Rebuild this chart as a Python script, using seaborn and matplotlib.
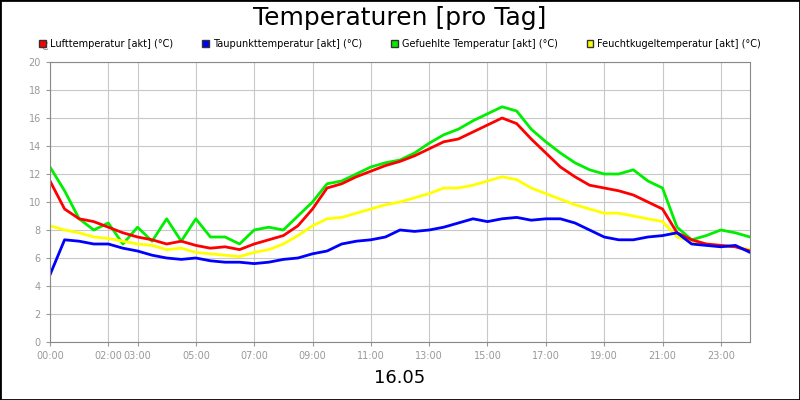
import numpy as np
import pandas as pd
import matplotlib
matplotlib.use("Agg")
import matplotlib.pyplot as plt
from matplotlib.patches import Patch
from matplotlib.patches import Rectangle
import seaborn as sns

hours = [i * 0.5 for i in range(49)]
luft = [11.5, 9.5, 8.8, 8.6, 8.2, 7.8, 7.5, 7.3, 7.0, 7.2, 6.9, 6.7, 6.8, 6.6, 7.0, 7.3, 7.6, 8.3, 9.5, 11.0,
        11.3, 11.8, 12.2, 12.6, 12.9, 13.3, 13.8, 14.3, 14.5, 15.0, 15.5, 16.0, 15.6, 14.5, 13.5, 12.5, 11.8, 11.2,
        11.0, 10.8, 10.5, 10.0, 9.5, 7.8, 7.3, 7.0, 6.9, 6.8, 6.5]
gefuehlt = [12.5, 10.8, 8.8, 8.0, 8.5, 7.0, 8.2, 7.2, 8.8, 7.2, 8.8, 7.5, 7.5, 7.0, 8.0, 8.2, 8.0, 9.0, 10.0, 11.3,
            11.5, 12.0, 12.5, 12.8, 13.0, 13.5, 14.2, 14.8, 15.2, 15.8, 16.3, 16.8, 16.5, 15.2, 14.3, 13.5, 12.8, 12.3,
            12.0, 12.0, 12.3, 11.5, 11.0, 8.2, 7.3, 7.6, 8.0, 7.8, 7.5]
feucht = [8.3, 8.0, 7.8, 7.5, 7.4, 7.2, 7.0, 6.9, 6.6, 6.7, 6.4, 6.3, 6.2, 6.1, 6.4, 6.6, 7.0, 7.6, 8.3, 8.8,
          8.9, 9.2, 9.5, 9.8, 10.0, 10.3, 10.6, 11.0, 11.0, 11.2, 11.5, 11.8, 11.6, 11.0, 10.6, 10.2, 9.8, 9.5,
          9.2, 9.2, 9.0, 8.8, 8.6, 7.5, 7.2, 7.0, 6.9, 6.8, 6.6]
taupunkt = [4.8, 7.3, 7.2, 7.0, 7.0, 6.7, 6.5, 6.2, 6.0, 5.9, 6.0, 5.8, 5.7, 5.7, 5.6, 5.7, 5.9, 6.0, 6.3, 6.5,
            7.0, 7.2, 7.3, 7.5, 8.0, 7.9, 8.0, 8.2, 8.5, 8.8, 8.6, 8.8, 8.9, 8.7, 8.8, 8.8, 8.5, 8.0, 7.5,
            7.3, 7.3, 7.5, 7.6, 7.8, 7.0, 6.9, 6.8, 6.9, 6.4]
names = ["Lufttemperatur [akt] (°C)", "Taupunkttemperatur [akt] (°C)",
         "Gefuehlte Temperatur [akt] (°C)", "Feuchtkugeltemperatur [akt] (°C)"]
colors = ["#ff0000", "#0000ff", "#00ee00", "#ffff00"]
tick_hours = [0, 2, 3, 5, 7, 9, 11, 13, 15, 17, 19, 21, 23]
tick_labels = ["00:00", "02:00", "03:00", "05:00", "07:00", "09:00", "11:00", "13:00",
               "15:00", "17:00", "19:00", "21:00", "23:00"]

frames = []
for n, vals in zip(names, [luft, taupunkt, gefuehlt, feucht]):
    frames.append(pd.DataFrame({"h": hours[:len(vals)], "v": vals, "s": n}))
df = pd.concat(frames)

fig = plt.figure(figsize=(8, 4), dpi=100)
ax = fig.add_axes([0.0625, 0.145, 0.875, 0.70])
for n, c in zip([names[2], names[3], names[0], names[1]], [colors[2], colors[3], colors[0], colors[1]]):
    sns.lineplot(data=df[df.s == n], x="h", y="v", color=c, lw=2, ax=ax, legend=False)
ax.set_xlim(0, 24)
ax.set_ylim(0, 20)
ax.set_yticks(range(0, 21, 2))
ax.set_xticks(tick_hours)
ax.set_xticklabels(tick_labels)
ax.tick_params(colors="#999999", labelsize=7, length=3)
ax.grid(True, color="#c8c8c8", lw=0.8)
ax.set_axisbelow(True)
ax.set_xlabel("")
ax.set_ylabel("")
for s in ax.spines.values():
    s.set_color("#888888")
fig.text(0.5, 0.955, "Temperaturen [pro Tag]", ha="center", va="center", fontsize=18)
fig.text(0.046, 0.875, "°C", fontsize=7, color="#888888")
fig.text(0.5, 0.055, "16.05", ha="center", va="center", fontsize=13)
handles = [Patch(facecolor=c, edgecolor="#333333") for c in colors]
fig.legend(handles, names, loc="center", bbox_to_anchor=(0.5, 0.89), ncol=4, frameon=False,
           fontsize=7, handlelength=0.7, handleheight=0.7, columnspacing=3.0, handletextpad=0.4)
fig.add_artist(Rectangle((0, 0), 1, 1, transform=fig.transFigure, fill=False, ec="black", lw=2))
fig.savefig("out.png", dpi=100)
